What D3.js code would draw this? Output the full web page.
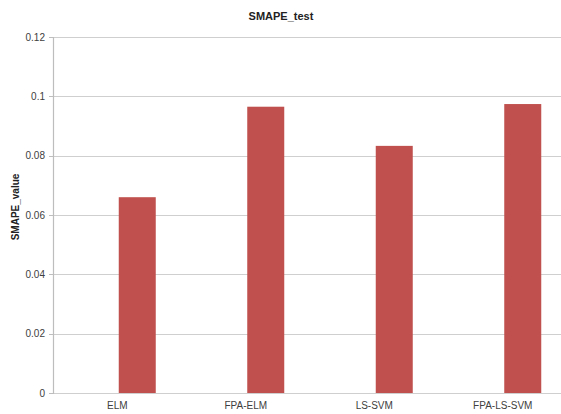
<!DOCTYPE html>
<html><head><meta charset="utf-8">
<script src="https://cdn.jsdelivr.net/npm/d3@7"></script>
<style>body{margin:0;background:#fff;} text{font-family:"Liberation Sans",Arial,sans-serif;}</style>
</head><body>
<svg id="c" width="561" height="414"></svg>
<script>
const categories = ["ELM", "FPA-ELM", "LS-SVM", "FPA-LS-SVM"];
const values = [0.066, 0.0965, 0.0833, 0.0974];
const yTicks = [0, 0.02, 0.04, 0.06, 0.08, 0.1, 0.12];
const yTickLabels = ["0", "0.02", "0.04", "0.06", "0.08", "0.1", "0.12"];
const title = "SMAPE_test";
const yLabel = "SMAPE_value";

const svg = d3.select("#c");
const x = d3.scaleBand().domain(categories).range([53, 567]).padding(0);
const y = d3.scaleLinear().domain([0, 0.12]).range([393, 37]);

// gridlines
svg.append("g").selectAll("line").data(yTicks).join("line")
  .attr("x1", 53).attr("x2", 561)
  .attr("y1", d => Math.round(y(d)) + 0.5).attr("y2", d => Math.round(y(d)) + 0.5)
  .attr("stroke", "#cfcfcf").attr("stroke-width", 1.2);

// left axis line
svg.append("line").attr("x1", 53.5).attr("x2", 53.5).attr("y1", y(0.12)).attr("y2", y(0) + 1)
  .attr("stroke", "#bdbdbd").attr("stroke-width", 1.2);
// tick marks
svg.append("g").selectAll("line").data(yTicks).join("line")
  .attr("x1", 49).attr("x2", 53)
  .attr("y1", d => Math.round(y(d)) + 0.5).attr("y2", d => Math.round(y(d)) + 0.5)
  .attr("stroke", "#bdbdbd");

// y tick labels
svg.append("g").selectAll("text").data(yTicks).join("text")
  .attr("x", 45).attr("y", d => y(d)).attr("dy", "0.35em")
  .attr("text-anchor", "end").attr("font-size", 10).attr("fill", "#404040")
  .text((d, i) => yTickLabels[i]);

// bars
const bw = 37, off = 20;
svg.append("g").selectAll("rect").data(values).join("rect")
  .attr("x", (d, i) => x(categories[i]) + x.bandwidth() / 2 + off - bw / 2)
  .attr("width", bw)
  .attr("y", d => y(d)).attr("height", d => y(0) - y(d))
  .attr("fill", "#C0504D");

// x labels
svg.append("g").selectAll("text").data(categories).join("text")
  .attr("x", d => x(d) + x.bandwidth() / 2).attr("y", 409)
  .attr("text-anchor", "middle").attr("font-size", 10).attr("fill", "#404040")
  .text(d => d);

// title
svg.append("text").attr("x", 281).attr("y", 20).attr("text-anchor", "middle")
  .attr("font-size", 11).attr("font-weight", "bold").attr("fill", "#222").text(title);

// y label
svg.append("text").attr("transform", "translate(19,207) rotate(-90)")
  .attr("text-anchor", "middle").attr("font-size", 10).attr("font-weight", "bold")
  .attr("fill", "#222").text(yLabel);
</script>
</body></html>
